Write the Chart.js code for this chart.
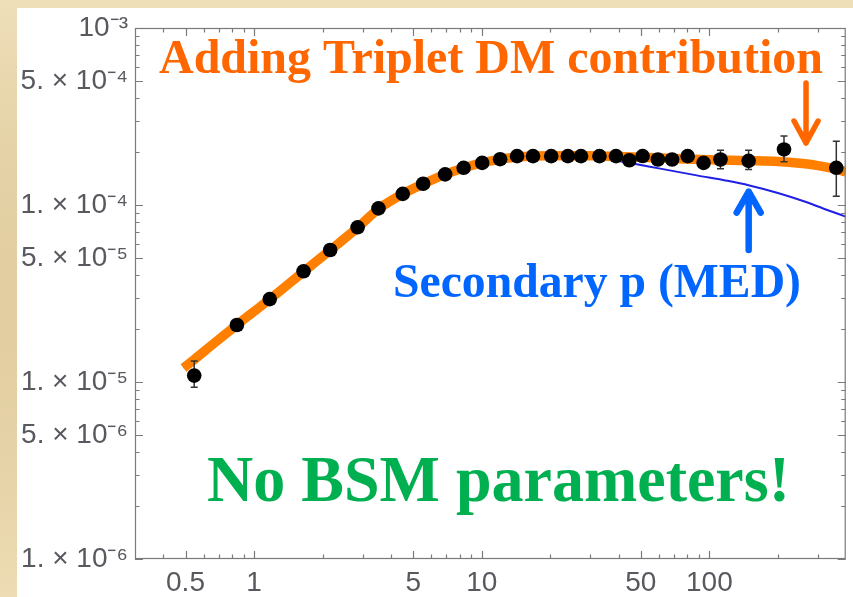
<!DOCTYPE html>
<html><head><meta charset="utf-8">
<script src="https://cdn.jsdelivr.net/npm/chart.js@4/dist/chart.umd.min.js"></script>
<style>html,body{margin:0;padding:0;background:#e6d3a7;overflow:hidden}canvas{display:block}</style>
</head><body>
<canvas id="c" width="853" height="597"></canvas>
<script>
// ---- data ----
const energy = [0.546,0.841,1.172,1.65,2.16,2.85,3.52,4.5,5.53,6.91,8.33,10.05,12.05,14.3,16.8,20.2,23.9,27.3,32.9,38.9,44.5,50.9,59.4,68.6,80.3,94.3,111.9,148.7,212.7,361];
const ratio = [1.087e-5,2.10e-5,2.94e-5,4.22e-5,5.57e-5,7.48e-5,9.57e-5,1.156e-4,1.318e-4,1.49e-4,1.622e-4,1.73e-4,1.815e-4,1.888e-4,1.888e-4,1.888e-4,1.888e-4,1.888e-4,1.888e-4,1.888e-4,1.79e-4,1.89e-4,1.807e-4,1.807e-4,1.888e-4,1.73e-4,1.807e-4,1.776e-4,2.06e-4,1.622e-4];
const ratioLow = [9.35e-6,2.03e-5,2.85e-5,4.1e-5,5.42e-5,7.28e-5,9.32e-5,1.128e-4,1.288e-4,1.457e-4,1.585e-4,1.69e-4,1.772e-4,1.842e-4,1.842e-4,1.842e-4,1.84e-4,1.84e-4,1.838e-4,1.836e-4,1.74e-4,1.835e-4,1.75e-4,1.745e-4,1.82e-4,1.655e-4,1.60e-4,1.589e-4,1.753e-4,1.122e-4];
const ratioHigh = [1.315e-5,2.17e-5,3.03e-5,4.34e-5,5.72e-5,7.68e-5,9.82e-5,1.184e-4,1.348e-4,1.523e-4,1.659e-4,1.77e-4,1.858e-4,1.934e-4,1.934e-4,1.934e-4,1.936e-4,1.936e-4,1.938e-4,1.94e-4,1.84e-4,1.945e-4,1.865e-4,1.87e-4,1.956e-4,1.805e-4,2.04e-4,2.04e-4,2.457e-4,2.29e-4];

const totalE = [0.49,0.55,0.65,0.84,1.17,1.65,2.16,2.85,3.52,4.5,5.53,6.91,8.33,10,12,14.3,17,20,25,30,40,50,70,100,150,200,250,300,350,397];
const totalRatio = [1.2e-5,1.35e-5,1.61e-5,2.1e-5,2.93e-5,4.2e-5,5.55e-5,7.45e-5,9.5e-5,1.155e-4,1.315e-4,1.49e-4,1.62e-4,1.73e-4,1.81e-4,1.865e-4,1.89e-4,1.9e-4,1.9e-4,1.895e-4,1.88e-4,1.86e-4,1.83e-4,1.8e-4,1.78e-4,1.76e-4,1.72e-4,1.67e-4,1.61e-4,1.54e-4];

const secE = [0.49,0.55,0.65,0.84,1.17,1.65,2.16,2.85,3.52,4.5,5.53,6.91,8.33,10,12,14.3,17,20,25,30,37,48,60,88,120,150,200,260,320,397];
const secRatio = [1.2e-5,1.35e-5,1.61e-5,2.1e-5,2.93e-5,4.2e-5,5.55e-5,7.45e-5,9.5e-5,1.155e-4,1.315e-4,1.49e-4,1.62e-4,1.73e-4,1.81e-4,1.865e-4,1.89e-4,1.9e-4,1.895e-4,1.87e-4,1.8e-4,1.7e-4,1.61e-4,1.47e-4,1.37e-4,1.29e-4,1.17e-4,1.05e-4,9.5e-5,8.6e-5];

const xTickValues = [0.4,0.5,0.6,0.7,0.8,0.9,1,2,3,4,5,6,7,8,9,10,20,30,40,50,60,70,80,90,100,200,300];
const xLabelValues = [0.5,1,5,10,50,100];
const xLabelTexts = ['0.5','1','5','10','50','100'];
const yTickValues = [1e-6,2e-6,3e-6,4e-6,5e-6,6e-6,7e-6,8e-6,9e-6,1e-5,2e-5,3e-5,4e-5,5e-5,6e-5,7e-5,8e-5,9e-5,1e-4,2e-4,3e-4,4e-4,5e-4,6e-4,7e-4,8e-4,9e-4,1e-3];
const yLabelValues = [1e-6,5e-6,1e-5,5e-5,1e-4,5e-4,1e-3];
const yLabelTexts = ['1. × 10⁻⁶','5. × 10⁻⁶','1. × 10⁻⁵','5. × 10⁻⁵','1. × 10⁻⁴','5. × 10⁻⁴','10⁻³'];

// ---- helpers ----
const near = (a,b) => Math.abs(Math.log10(a) - Math.log10(b)) < 1e-6;
const labelFor = (vals, texts, v) => { const i = vals.findIndex(u => near(u, v)); return i < 0 ? '' : texts[i]; };

const pointsData = energy.map((e,i) => ({x:e, y:ratio[i]}));
const errData = [];
energy.forEach((e,i) => { errData.push({x:e,y:ratioLow[i]}, {x:e,y:ratioHigh[i]}, {x:e,y:null}); });
const totalData = totalE.map((e,i) => ({x:e, y:totalRatio[i]}));
const secData = secE.map((e,i) => ({x:e, y:secRatio[i]}));

const bgPlugin = {
  id:'bg',
  beforeDraw(chart){
    const ctx = chart.ctx; ctx.save();
    ctx.fillStyle = '#e6d3a7'; ctx.fillRect(0,0,chart.width,chart.height);
    const g = ctx.createLinearGradient(0,0,0,chart.height);
    g.addColorStop(0,'rgba(255,245,220,0.35)'); g.addColorStop(0.5,'rgba(200,175,120,0.15)'); g.addColorStop(1,'rgba(255,240,210,0.3)');
    ctx.fillStyle = g; ctx.fillRect(0,0,chart.width,chart.height);
    ctx.fillStyle = '#ffffff'; ctx.fillRect(17,8,chart.width-17,chart.height-8);
    ctx.restore();
  }
};

const framePlugin = {
  id:'frame',
  afterDraw(chart){
    const ctx = chart.ctx, a = chart.chartArea, xs = chart.scales.x, ys = chart.scales.y;
    ctx.save();
    ctx.strokeStyle = '#7a7a7a'; ctx.lineWidth = 1.2;
    ctx.strokeRect(a.left+0.5, a.top+0.5, a.right-a.left-1, a.bottom-a.top-1);
    ctx.beginPath();
    xTickValues.forEach(v => {
      const p = Math.round(xs.getPixelForValue(v)) + 0.5;
      const len = labelFor(xLabelValues, xLabelTexts, v) ? 8 : 4.5;
      ctx.moveTo(p, a.bottom); ctx.lineTo(p, a.bottom - len);
      ctx.moveTo(p, a.top); ctx.lineTo(p, a.top + len);
    });
    yTickValues.forEach(v => {
      const p = Math.round(ys.getPixelForValue(v)) + 0.5;
      const len = labelFor(yLabelValues, yLabelTexts, v) ? 8 : 4.5;
      ctx.moveTo(a.left, p); ctx.lineTo(a.left + len, p);
      ctx.moveTo(a.right, p); ctx.lineTo(a.right - len, p);
    });
    ctx.stroke();

    // annotations
    ctx.textAlign = 'left'; ctx.textBaseline = 'alphabetic';
    ctx.font = 'bold 48px "Liberation Serif", "Times New Roman", serif';
    ctx.fillStyle = '#ff6600';
    ctx.fillText('Adding Triplet DM contribution', 159, 73, 664);
    ctx.font = 'bold 48px "Liberation Serif", "Times New Roman", serif';
    ctx.fillStyle = '#0066ff';
    ctx.fillText('Secondary p (MED)', 393, 297, 408);
    ctx.font = 'bold 65px "Liberation Serif", "Times New Roman", serif';
    ctx.fillStyle = '#00b050';
    ctx.fillText('No BSM parameters!', 207, 501, 583);

    // arrows (anchored in data coordinates)
    ctx.lineCap = 'round'; ctx.lineJoin = 'round';
    const ox = xs.getPixelForValue(265.8), oy0 = ys.getPixelForValue(4.89e-4), oy1 = ys.getPixelForValue(2.24e-4);
    ctx.strokeStyle = '#ff6600'; ctx.lineWidth = 5.5;
    ctx.beginPath(); ctx.moveTo(ox, oy0); ctx.lineTo(ox, oy1);
    ctx.moveTo(ox-12, oy1-22); ctx.lineTo(ox, oy1); ctx.lineTo(ox+12, oy1-22); ctx.stroke();
    const bx = xs.getPixelForValue(148.8), by0 = ys.getPixelForValue(5.57e-5), by1 = ys.getPixelForValue(1.19e-4);
    ctx.strokeStyle = '#0066ff'; ctx.lineWidth = 6.5;
    ctx.beginPath(); ctx.moveTo(bx, by0); ctx.lineTo(bx, by1);
    ctx.moveTo(bx-12, by1+21); ctx.lineTo(bx, by1); ctx.lineTo(bx+12, by1+21); ctx.stroke();
    ctx.restore();
  }
};

new Chart(document.getElementById('c'), {
  type: 'line',
  data: {
    datasets: [
      { label:'AMS-02 data', data: pointsData, showLine:false, pointRadius:7.3, pointHoverRadius:7.3,
        pointBackgroundColor:'#000', pointBorderWidth:0, order:1 },
      { label:'errors', data: errData, spanGaps:false, borderColor:'#333', borderWidth:1.5,
        pointStyle:'line', pointRadius:3.5, pointBorderColor:'#333', pointBorderWidth:1.5, order:2 },
      { label:'Adding Triplet DM contribution', data: totalData, borderColor:'#ff8000', borderWidth:9.5,
        pointRadius:0, cubicInterpolationMode:'monotone', borderCapStyle:'butt', order:3 },
      { label:'Secondary p (MED)', data: secData, borderColor:'#1f1fe6', borderWidth:2,
        pointRadius:0, cubicInterpolationMode:'monotone', order:4 }
    ]
  },
  options: {
    responsive:false, animation:false, devicePixelRatio:1,
    layout:{ padding:{ left:0, right:3, top:28, bottom:0 } },
    plugins:{ legend:{display:false}, tooltip:{enabled:false} },
    scales:{
      x:{ type:'logarithmic', min:0.3007, max:397,
        grid:{display:false, drawTicks:false}, border:{display:false},
        afterBuildTicks: s => { s.ticks = xTickValues.map(v => ({value:v})); },
        afterFit: s => { s.height = 38; },
        ticks:{ autoSkip:false, maxRotation:0, minRotation:0, padding:7, color:'#58585f',
          font:{ family:'"Liberation Sans", Arial, sans-serif', size:28 },
          callback: v => labelFor(xLabelValues, xLabelTexts, v) } },
      y:{ type:'logarithmic', min:1e-6, max:1e-3,
        grid:{display:false, drawTicks:false}, border:{display:false},
        afterBuildTicks: s => { s.ticks = yTickValues.map(v => ({value:v})); },
        afterFit: s => { s.width = 135; },
        ticks:{ autoSkip:false, padding:7, color:'#58585f',
          font:{ family:'"Liberation Sans", Arial, sans-serif', size:28 },
          callback: v => labelFor(yLabelValues, yLabelTexts, v) } }
    }
  },
  plugins:[bgPlugin, framePlugin]
});
</script>
</body></html>
